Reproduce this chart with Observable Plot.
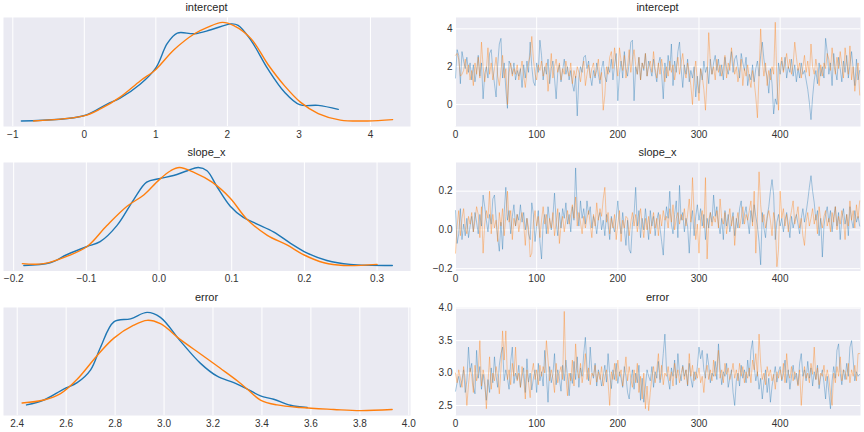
<!DOCTYPE html>
<html>
<head>
<meta charset="utf-8">
<script src="https://cdn.jsdelivr.net/npm/d3@7"></script>
<script src="https://cdn.jsdelivr.net/npm/@observablehq/plot@0.6"></script>
<style>
  html, body { margin: 0; padding: 0; background: #fff; }
  #root { position: relative; width: 864px; height: 432px; overflow: hidden; font-family: "Liberation Sans", Arial, sans-serif; }
  .panel { position: absolute; }
  .title { position: absolute; font-size: 11px; line-height: 11px; color: #262626; transform: translateX(-50%); white-space: nowrap; }
</style>
</head>
<body>
<div id="root"></div>
<script>
// ---------- parameter names (panel titles) ----------
const params = ["intercept", "slope_x", "error"];
const chainColors = ["#1f77b4", "#ff7f0e"];

// ---------- KDE curves (x grid, density) per chain ----------
const interceptKdeX0 = [-0.88, -0.01, 0.32, 0.50, 0.78, 1.00, 1.16, 1.30, 1.54, 1.77, 2.05, 2.15, 2.33, 2.57, 2.80, 3.01, 3.27, 3.55];
const interceptKdeY0 = [0.002, 0.032, 0.100, 0.134, 0.214, 0.309, 0.450, 0.510, 0.506, 0.529, 0.563, 0.555, 0.468, 0.300, 0.168, 0.096, 0.092, 0.069];
const interceptKdeX1 = [-0.71, -0.01, 0.23, 0.50, 0.78, 1.00, 1.25, 1.54, 1.72, 1.93, 2.09, 2.33, 2.57, 2.80, 3.02, 3.27, 3.58, 3.96, 4.31];
const interceptKdeY1 = [0.002, 0.031, 0.073, 0.140, 0.233, 0.300, 0.412, 0.506, 0.543, 0.572, 0.553, 0.478, 0.327, 0.205, 0.111, 0.045, 0.007, 0.002, 0.010];

const slopeKdeX0 = [-0.186, -0.150, -0.127, -0.099, -0.081, -0.058, -0.035, -0.017, 0.000, 0.020, 0.039, 0.054, 0.066, 0.080, 0.098, 0.116, 0.135, 0.158, 0.181, 0.204, 0.231, 0.263, 0.321];
const slopeKdeY0 = [0.02, 0.14, 0.49, 0.85, 1.06, 1.76, 2.89, 3.66, 3.81, 3.95, 4.16, 4.30, 4.16, 3.45, 2.61, 2.12, 1.83, 1.48, 0.99, 0.56, 0.24, 0.07, 0.02];
const slopeKdeX1 = [-0.188, -0.159, -0.127, -0.099, -0.072, -0.044, -0.021, 0.000, 0.016, 0.028, 0.048, 0.073, 0.098, 0.121, 0.149, 0.176, 0.199, 0.227, 0.254, 0.300];
const slopeKdeY1 = [0.10, 0.10, 0.42, 0.85, 1.76, 2.61, 3.10, 3.76, 4.16, 4.30, 4.09, 3.66, 2.96, 2.04, 1.34, 0.92, 0.49, 0.14, 0.02, 0.07];

const errorKdeX0 = [2.438, 2.509, 2.590, 2.645, 2.700, 2.740, 2.795, 2.863, 2.931, 2.985, 3.067, 3.149, 3.217, 3.285, 3.340, 3.394, 3.448, 3.517, 3.585];
const errorKdeY0 = [0.15, 0.28, 0.57, 0.74, 1.08, 1.67, 2.35, 2.43, 2.60, 2.47, 1.84, 1.25, 0.91, 0.74, 0.57, 0.39, 0.30, 0.14, 0.08];
const errorKdeX1 = [2.420, 2.509, 2.577, 2.645, 2.727, 2.795, 2.876, 2.931, 2.985, 3.067, 3.149, 3.230, 3.299, 3.340, 3.394, 3.462, 3.557, 3.693, 3.802, 3.932];
const errorKdeY1 = [0.20, 0.28, 0.45, 0.83, 1.46, 1.92, 2.26, 2.39, 2.30, 1.88, 1.50, 1.12, 0.79, 0.57, 0.28, 0.15, 0.08, 0.03, 0.00, 0.03];

// ---------- traces: draw index (every 2nd draw of 500) ----------
const draws = Array.from({length: 250}, (_, i) => i * 2);

const interceptTrace0 = [
 1.4, 2.9, 2.6, 1.1, 2.8, 2.3, 1.9, 2.5, 1.7, 2.2,
 1.3, 2.1, 1.2, 1.8, 2.6, 1.5, 2.2, 0.3, 1.6, 2.0,
 1.4, 2.7, 2.9, 1.8, 1.1, 0.4, 2.1, 3.2, 3.5, 1.4,
 2.2, 0.8, -0.2, 2.3, 2.1, 1.6, 2.2, 1.3, 1.8, 1.5,
 1.9, 0.9, 2.1, 1.4, 2.3, 1.7, 3.3, 2.0, 1.2, 1.0,
 2.2, 1.7, 3.4, 2.6, 1.3, 2.0, 1.6, 2.4, 1.1, 1.9,
 2.3, 1.4, 0.3, 1.7, 2.1, 1.2, 1.8, 2.4, 1.6, 2.0,
 1.3, 1.8, 1.1, 0.7, 1.5, -0.6, 1.4, 2.0, 1.7, 2.5,
 2.6, 1.9, 2.3, 1.5, 1.0, 1.8, 1.4, 2.2, 1.6, 1.1,
 1.9, 2.3, 1.5, 1.2, 2.0, 1.7, 2.4, 1.3, 2.1, 2.7,
 0.2, 1.6, 2.3, 1.4, 2.8, 1.9, 1.5, 2.2, 3.3, 3.4,
 0.2, 2.0, 1.6, 2.5, 1.3, 2.2, 1.8, 2.7, 1.5, 2.3,
 1.9, 1.5, 2.4, 1.7, 1.2, 2.1, 2.5, 1.6, 0.3, 2.2,
 1.4, 2.6, 1.8, 3.2, 1.0, 2.3, 1.7, 2.8, 3.3, 1.9,
 0.9, 2.1, 1.6, 2.4, 1.2, 1.8, 1.4, 2.0, 0.4, 1.5,
 0.6, 1.9, 1.3, 2.3, 1.7, 2.0, 1.1, 2.4, 1.6, 2.2,
 2.6, 1.8, 2.4, 1.5, 2.1, 1.3, 2.5, 1.9, 1.6, 2.2,
 2.8, 1.7, 2.4, 2.6, 2.0, 1.4, 2.7, 2.2, 1.8, 2.5,
 1.0, 1.6, 1.3, 2.1, 1.2, 1.9, 2.3, 1.5, 2.6, 3.3,
 2.4, 1.8, 1.5, 0.6, 1.9, 1.1, -0.5, 0.3, 0.0, 2.2,
 1.6, 2.3, 1.8, 2.5, 1.4, 2.0, 1.7, 2.4, 1.5, 2.1,
 1.2, 1.9, 1.4, 2.2, 1.6, 1.8, 1.3, 0.8, 0.1, -0.8,
 0.4, 1.3, 1.8, 1.1, 2.2, 1.5, 2.0, 1.4, 3.5, 2.8,
 1.6, 2.2, 1.0, 2.7, 1.8, 1.3, 2.5, 1.9, 1.2, 2.3,
 1.7, 2.6, 1.4, 2.1, 2.8, 1.9, 1.0, 2.4, 1.3, 1.8
];
const interceptTrace1 = [
 2.6, 2.7, 2.4, 1.5, 1.6, 1.8, 2.4, 1.6, 2.1, 1.3,
 1.8, 1.0, 2.2, 1.6, 2.5, 1.4, 3.3, 2.0, 1.2, 1.8,
 3.0, 1.6, 2.2, 1.3, 1.9, 2.5, 1.5, 1.0, 1.8, 2.6,
 1.4, 1.9, 0.0, 1.7, 2.2, 1.5, 1.9, 1.6, 2.1, 1.3,
 1.8, 2.3, 1.5, 0.9, 1.7, 2.2, 2.6, 3.6, 2.4, 1.6,
 1.3, 2.1, 1.8, 2.3, 1.5, 1.9, 2.2, 0.7, 1.6, 2.7,
 1.4, 2.0, 2.4, 1.7, 2.2, 1.3, 1.9, 1.6, 2.3, 1.8,
 1.5, 2.2, 1.1, 1.8, 1.4, 2.0, 1.7, 1.2, 1.9, 2.3,
 1.0, 1.6, 2.1, 1.4, 1.9, 2.2, 1.5, 1.8, 2.4, 1.3,
 1.7, -0.3, 0.5, 2.0, 1.6, 2.5, 2.8, 1.9, 3.0, 2.2,
 1.5, 3.0, 2.3, 1.8, 2.6, 1.4, 2.0, 2.9, 1.7, 2.4,
 2.9, 2.1, 1.6, 2.5, 1.3, 2.2, 1.9, 2.7, 1.5, 2.0,
 2.3, 1.7, 2.8, 1.9, 1.4, 2.2, 1.6, 2.4, 1.8, 1.2,
 2.0, 1.5, 2.3, 1.7, 2.1, 1.3, 1.9, 2.5, 1.6, 2.2,
 2.7, 1.8, 1.4, 2.2, 1.7, 1.0, 0.0, 1.6, 2.3, 1.2,
 0.2, 1.9, 1.5, 0.8, -0.3, 1.4, 3.8, 2.2, 1.6, 2.0,
 1.3, 2.4, 1.7, 2.1, 1.5, 1.9, 2.6, 1.4, 2.2, 1.8,
 3.0, 2.3, 1.6, 2.0, 1.2, 1.7, 2.4, 1.0, 1.9, 1.5,
 2.1, 1.4, 0.9, 1.8, 1.2, 0.4, -0.7, 1.6, 4.0, 2.3,
 1.5, 2.2, 1.0, 1.8, 1.3, 2.0, 1.6, 4.35, 1.2, -0.3,
 2.0, 2.5, 1.7, 2.2, 2.7, 1.9, 2.4, 1.6, 2.1, 3.3,
 2.5, 1.8, 2.2, 1.4, 2.0, 2.6, 1.7, 2.3, 1.5, 3.2,
 2.0, 1.6, 2.4, 1.8, 1.0, 2.1, 1.5, 2.2, 1.9, 2.7,
 2.4, 1.8, 3.0, 2.2, 1.6, 2.5, 1.9, 2.8, 2.1, 1.4,
 3.0, 2.2, 1.6, 3.1, 1.3, 2.0, 0.7, 1.5, 2.2, 0.5
];

const slopeTrace0 = [
 0.10, -0.07, -0.02, 0.11, -0.05, 0.03, -0.03, 0.06, -0.04, 0.02,
 0.07, -0.01, 0.09, 0.04, -0.02, 0.08, 0.02, 0.18, 0.12, 0.05,
 -0.01, 0.08, 0.03, 0.16, 0.18, 0.06, -0.04, -0.11, 0.04, -0.10,
 0.09, 0.22, 0.05, 0.10, -0.02, 0.07, 0.13, 0.02, 0.08, 0.05,
 0.13, 0.04, 0.09, 0.00, 0.06, -0.02, -0.05, 0.14, 0.08, -0.06,
 0.02, 0.10, -0.06, -0.15, 0.03, 0.08, -0.02, 0.12, 0.05, 0.00,
 0.07, 0.19, 0.04, -0.03, 0.09, 0.01, 0.11, 0.06, 0.14, 0.03,
 0.08, -0.01, 0.12, 0.05, 0.32, 0.10, 0.02, 0.15, 0.06, 0.11,
 0.03, 0.15, 0.08, 0.12, 0.01, 0.07, 0.04, -0.02, 0.06, 0.09,
 0.00, 0.05, -0.03, 0.08, 0.03, -0.05, 0.07, 0.02, -0.01, 0.06,
 0.15, 0.04, -0.02, 0.09, 0.01, -0.08, 0.05, -0.10, -0.12, 0.03,
 0.08, 0.22, 0.02, 0.10, -0.04, 0.06, 0.00, 0.11, 0.03, -0.05,
 0.10, 0.02, 0.07, -0.03, 0.05, 0.09, 0.01, -0.06, -0.13, 0.04,
 0.12, 0.06, 0.20, 0.03, -0.02, 0.08, 0.15, -0.04, 0.23, 0.05,
 0.09, -0.01, 0.06, 0.02, -0.12, 0.04, 0.10, -0.03, 0.07, 0.13,
 0.05, 0.11, 0.02, 0.08, -0.05, 0.06, 0.01, 0.09, 0.04, 0.18,
 0.07, 0.12, 0.03, -0.02, 0.06, -0.05, 0.10, 0.02, 0.08, -0.01,
 0.04, 0.09, -0.03, 0.06, 0.01, 0.11, 0.15, 0.03, 0.08, 0.12,
 0.05, -0.02, 0.10, 0.04, 0.13, 0.07, 0.02, -0.06, -0.18, 0.09,
 0.01, -0.04, 0.07, 0.12, 0.20, 0.26, 0.18, -0.05, 0.04, 0.08,
 0.02, 0.06, -0.01, 0.05, 0.09, 0.03, -0.04, 0.07, 0.01, 0.05,
 0.08, 0.03, -0.02, 0.06, 0.11, 0.04, 0.09, 0.15, 0.22, 0.28,
 0.20, 0.14, 0.05, 0.10, -0.03, 0.06, -0.14, 0.02, 0.08, 0.12,
 0.04, 0.10, -0.01, 0.07, 0.12, 0.02, 0.09, -0.05, 0.06, 0.11,
 0.03, 0.08, -0.03, 0.12, 0.05, 0.01, 0.10, 0.04, 0.07, 0.02
];
const slopeTrace1 = [
 -0.12, 0.02, 0.10, -0.03, 0.06, 0.11, 0.01, -0.02, 0.07, 0.03,
 0.09, -0.01, 0.05, 0.12, 0.08, -0.04, 0.12, -0.12, 0.03, 0.10,
 0.06, 0.20, -0.02, 0.08, 0.01, 0.05, -0.06, 0.09, 0.02, 0.11,
 -0.03, 0.07, 0.20, 0.04, 0.10, -0.05, 0.06, 0.02, 0.08, -0.01,
 0.05, 0.09, 0.03, -0.08, 0.06, 0.01, -0.14, -0.12, 0.04, 0.10,
 0.02, 0.07, -0.04, 0.05, 0.12, 0.03, 0.08, -0.02, 0.06, 0.01,
 0.09, -0.03, 0.04, 0.11, -0.07, 0.02, 0.07, -0.01, 0.05, 0.10,
 0.03, 0.08, 0.13, 0.06, 0.17, 0.02, 0.09, 0.04, -0.02, 0.07,
 0.01, 0.06, 0.10, 0.03, -0.04, 0.08, 0.02, 0.14, 0.05, 0.11,
 0.07, 0.16, 0.22, 0.04, 0.09, -0.02, 0.06, 0.01, 0.08, -0.05,
 0.03, 0.10, -0.06, 0.05, 0.01, 0.07, 0.06, -0.03, 0.04, 0.09,
 0.02, 0.08, -0.01, 0.05, 0.11, 0.03, -0.04, 0.06, 0.00, 0.07,
 -0.02, 0.04, 0.09, 0.01, 0.06, -0.03, 0.08, 0.02, 0.10, 0.05,
 0.07, 0.01, 0.11, 0.04, 0.13, 0.00, 0.06, 0.09, 0.03, 0.08,
 0.05, 0.11, 0.02, 0.08, 0.16, 0.04, 0.27, 0.09, -0.05, 0.03,
 -0.12, 0.06, 0.10, 0.01, 0.27, -0.15, 0.05, 0.09, 0.02, 0.07,
 0.04, 0.10, 0.01, 0.16, 0.06, 0.03, 0.09, -0.02, 0.05, 0.11,
 0.02, 0.07, -0.08, 0.04, 0.09, 0.01, 0.06, 0.12, 0.03, 0.08,
 0.05, 0.10, 0.15, 0.02, 0.20, -0.12, 0.07, 0.30, 0.13, 0.04,
 0.08, 0.01, 0.06, 0.10, 0.05, -0.03, 0.09, 0.04, -0.19, -0.10,
 0.20, 0.06, 0.11, 0.02, 0.08, -0.01, 0.05, 0.10, 0.15, 0.03,
 0.07, 0.12, 0.01, 0.06, -0.03, -0.08, 0.04, 0.09, 0.02, 0.06,
 0.11, 0.03, 0.08, -0.02, 0.12, 0.05, 0.01, 0.07, 0.10, 0.02,
 0.06, -0.01, 0.09, 0.04, 0.12, 0.00, 0.07, 0.03, 0.10, 0.05,
 -0.05, 0.08, 0.02, 0.15, 0.05, 0.10, 0.01, 0.13, 0.06, 0.15
];

const errorTrace0 = [
 2.72, 2.85, 2.95, 2.78, 2.90, 3.05, 2.70, 2.88, 3.40, 3.02,
 3.15, 2.80, 2.68, 3.35, 2.92, 3.10, 2.75, 2.98, 2.82, 2.58,
 2.90, 2.70, 3.08, 2.85, 3.25, 2.95, 2.78, 3.12, 3.30, 3.40,
 2.88, 3.05, 2.92, 2.75, 3.18, 3.40, 2.84, 3.00, 2.90, 3.12,
 2.78, 2.95, 3.08, 2.70, 3.22, 2.86, 3.00, 2.74, 2.92, 3.05,
 2.70, 3.15, 2.88, 3.02, 2.80, 3.35, 2.96, 2.55, 3.10, 2.85,
 2.98, 3.30, 2.82, 3.05, 2.92, 2.72, 3.12, 2.88, 3.20, 2.95,
 2.65, 3.00, 2.84, 3.18, 2.90, 3.25, 2.78, 3.08, 2.95, 3.30,
 3.55, 3.10, 2.88, 3.40, 3.02, 2.92, 3.15, 2.80, 3.05, 2.96,
 2.80, 2.95, 3.12, 2.86, 3.30, 2.98, 2.76, 3.05, 2.90, 3.15,
 2.84, 3.02, 2.92, 2.78, 3.10, 2.95, 2.70, 2.60, 2.88, 3.05,
 2.75, 3.00, 2.85, 3.12, 2.58, 2.92, 2.55, 2.80, 3.05, 2.95,
 2.88, 3.10, 2.78, 3.02, 2.92, 3.18, 2.85, 3.00, 3.30, 3.60,
 3.05, 2.90, 2.75, 3.08, 2.95, 3.20, 2.82, 3.30, 3.00, 2.88,
 3.12, 2.95, 3.05, 2.80, 3.15, 2.92, 2.78, 3.02, 2.90, 3.10,
 3.40, 3.22, 3.35, 3.05, 2.92, 3.30, 3.12, 2.85, 3.00, 2.95,
 3.18, 2.90, 3.45, 3.08, 2.82, 3.02, 2.95, 3.15, 2.78, 2.92,
 3.05, 2.70, 2.50, 2.88, 3.00, 2.80, 3.12, 2.92, 3.05, 2.85,
 3.20, 2.95, 3.35, 3.50, 3.10, 2.88, 3.02, 2.75, 2.92, 2.60,
 2.85, 3.05, 2.70, 2.92, 2.55, 2.80, 2.95, 3.10, 2.86, 3.02,
 3.10, 2.88, 2.98, 3.20, 2.85, 3.05, 2.75, 2.95, 3.12, 2.90,
 3.00, 2.82, 3.15, 3.30, 2.95, 3.05, 2.88, 3.18, 2.92, 3.08,
 2.80, 3.02, 2.90, 3.12, 2.76, 2.95, 3.05, 2.85, 2.60, 2.95,
 2.70, 2.45, 2.88, 3.10, 2.92, 3.35, 3.45, 3.00, 2.82, 3.05,
 2.90, 3.15, 2.95, 3.40, 3.50, 3.20, 2.88, 3.02, 2.95, 2.98
];
const errorTrace1 = [
 3.00, 2.85, 3.05, 2.92, 2.78, 3.10, 2.90, 2.50, 2.82, 3.08,
 2.95, 2.70, 3.12, 2.88, 3.00, 3.50, 2.80, 3.05, 2.92, 2.45,
 2.85, 3.25, 2.75, 3.00, 2.88, 3.10, 2.95, 2.68, 3.05, 3.65,
 3.20, 3.65, 2.90, 3.05, 2.82, 3.15, 2.95, 3.40, 2.88, 3.00,
 2.78, 3.10, 2.92, 2.60, 3.05, 2.85, 2.62, 3.00, 3.15, 2.90,
 3.05, 2.82, 3.12, 2.95, 3.10, 3.00, 3.50, 3.20, 2.88, 3.05,
 2.92, 2.70, 3.15, 2.85, 3.00, 3.10, 2.90, 3.95, 2.95, 2.65,
 3.00, 2.88, 3.20, 2.80, 3.45, 3.05, 2.92, 3.15, 2.85, 3.02,
 3.30, 2.90, 3.08, 2.82, 3.00, 2.95, 3.12, 2.86, 3.02, 2.90,
 3.10, 2.80, 2.95, 3.05, 2.85, 2.50, 3.02, 2.90, 3.15, 2.88,
 3.20, 2.95, 3.05, 2.80, 3.00, 3.25, 2.88, 3.10, 2.92, 2.78,
 3.05, 2.85, 3.15, 2.70, 2.95, 2.60, 3.00, 2.45, 2.80, 2.42,
 2.70, 2.95, 3.10, 2.85, 3.05, 3.30, 2.90, 3.12, 2.82, 3.00,
 2.95, 3.10, 2.88, 3.02, 2.80, 3.15, 2.92, 3.05, 2.85, 3.00,
 3.10, 2.90, 3.05, 2.82, 3.30, 2.95, 3.12, 2.88, 3.02, 2.92,
 3.08, 2.85, 2.95, 2.70, 3.00, 3.12, 2.90, 3.05, 2.88, 3.20,
 2.95, 3.10, 3.35, 2.92, 3.05, 2.85, 3.15, 2.98, 3.08, 2.90,
 3.00, 3.15, 2.92, 3.05, 2.88, 3.15, 2.95, 3.10, 2.85, 3.02,
 2.92, 3.08, 2.85, 3.20, 3.05, 3.30, 2.95, 3.60, 3.15, 2.90,
 3.00, 2.82, 3.10, 2.95, 3.05, 2.88, 2.98, 2.75, 3.02, 2.92,
 3.05, 2.90, 3.15, 2.85, 3.30, 3.00, 2.92, 3.10, 2.88, 3.02,
 2.95, 2.80, 3.05, 2.50, 2.88, 3.10, 2.92, 3.00, 2.85, 3.15,
 2.98, 3.40, 2.90, 3.08, 2.82, 3.00, 2.95, 3.12, 2.88, 3.05,
 2.92, 2.70, 2.50, 3.00, 2.85, 3.10, 2.95, 3.25, 2.88, 3.05,
 3.02, 2.90, 3.15, 2.85, 3.05, 2.95, 3.12, 2.88, 3.30, 3.30
];

// ---------- axis ticks ----------
const kdeTicks = [[-1, 0, 1, 2, 3, 4], [-0.2, -0.1, 0.0, 0.1, 0.2, 0.3], [2.4, 2.6, 2.8, 3.0, 3.2, 3.4, 3.6, 3.8, 4.0]];
const kdeTickFormats = [d3.format("d"), d3.format(".1f"), d3.format(".1f")];
const traceXTicks = [0, 100, 200, 300, 400];
const traceYTicks = [[0, 2, 4], [-0.2, 0.0, 0.2], [2.5, 3.0, 3.5, 4.0]];
const traceYFormats = [d3.format("d"), d3.format(".1f"), d3.format(".1f")];

// ---------- layout ----------
const rowTop = [17, 162, 307];
const rowH = [109, 108.5, 108];
const titleTop = [1.7, 146.7, 291.7];
const kdeXDomains = [[-1.13, 4.56], [-0.214, 0.346], [2.344, 4.007]];
const kdeYDomains = [[-0.03, 0.60], [-0.22, 4.52], [-0.13, 2.73]];
const traceYDomains = [[-1.16, 4.6], [-0.212, 0.348], [2.346, 4.01]];

const kdeData = [
  [[interceptKdeX0, interceptKdeY0], [interceptKdeX1, interceptKdeY1]],
  [[slopeKdeX0, slopeKdeY0], [slopeKdeX1, slopeKdeY1]],
  [[errorKdeX0, errorKdeY0], [errorKdeX1, errorKdeY1]]
];
const traceData = [
  [interceptTrace0, interceptTrace1],
  [slopeTrace0, slopeTrace1],
  [errorTrace0, errorTrace1]
];

const root = document.getElementById("root");
const BG = "#EAEAF2";
const style = {fontFamily: "'Liberation Sans', Arial, sans-serif", fontSize: "10px", color: "#333", background: "transparent", overflow: "visible"};
const MB = 22;

function place(el, left, top) {
  el.classList.add("panel");
  el.style.left = left + "px";
  el.style.top = top + "px";
  root.appendChild(el);
}
function title(text, cx, top) {
  const d = document.createElement("div");
  d.className = "title";
  d.textContent = text;
  d.style.left = cx + "px";
  d.style.top = top + "px";
  root.appendChild(d);
}

// left column: plot area x 3..410 ; right column: 455..860
const L = {left: 0, ml: 3, w: 407, mr: 20};
const R = {left: 425, ml: 30, w: 405, mr: 9};

for (let r = 0; r < 3; r++) {
  // KDE panel
  const curves = kdeData[r].map(([xs, ys], c) => xs.map((x, i) => ({x, y: ys[i], chain: c})));
  const kde = Plot.plot({
    width: L.ml + L.w + L.mr,
    height: rowH[r] + MB,
    marginLeft: L.ml, marginRight: L.mr, marginTop: 0, marginBottom: MB,
    style,
    x: {domain: kdeXDomains[r], ticks: kdeTicks[r], tickFormat: kdeTickFormats[r], tickSize: 0, tickPadding: 4, label: null},
    y: {domain: kdeYDomains[r], axis: null},
    marks: [
      Plot.frame({fill: BG, stroke: "none"}),
      Plot.gridX(kdeTicks[r], {stroke: "white", strokeOpacity: 1, strokeWidth: 1}),
      ...curves.map((pts, c) => Plot.line(pts, {x: "x", y: "y", stroke: chainColors[c], strokeWidth: 1.4, curve: "catmull-rom"}))
    ]
  });
  place(kde, L.left, rowTop[r]);
  title(params[r], L.left + L.ml + L.w / 2, titleTop[r]);

  // trace panel
  const series = traceData[r].map((vals, c) => vals.map((v, i) => ({draw: draws[i], v, chain: c})));
  const tr = Plot.plot({
    width: R.ml + R.w + R.mr,
    height: rowH[r] + MB,
    marginLeft: R.ml, marginRight: R.mr, marginTop: 0, marginBottom: MB,
    style,
    x: {domain: [0, 499], ticks: traceXTicks, tickFormat: d3.format("d"), tickSize: 0, tickPadding: 4, label: null},
    y: {domain: traceYDomains[r], ticks: traceYTicks[r], tickFormat: traceYFormats[r], tickSize: 0, tickPadding: 3, label: null},
    marks: [
      Plot.frame({fill: BG, stroke: "none"}),
      Plot.gridX(traceXTicks, {stroke: "white", strokeOpacity: 1, strokeWidth: 1}),
      Plot.gridY(traceYTicks[r], {stroke: "white", strokeOpacity: 1, strokeWidth: 1}),
      ...series.map((pts, c) => Plot.line(pts, {x: "draw", y: "v", stroke: chainColors[c], strokeOpacity: 0.38, strokeWidth: 1}))
    ]
  });
  place(tr, R.left, rowTop[r]);
  title(params[r], R.left + R.ml + R.w / 2, titleTop[r]);
}
</script>
</body>
</html>
